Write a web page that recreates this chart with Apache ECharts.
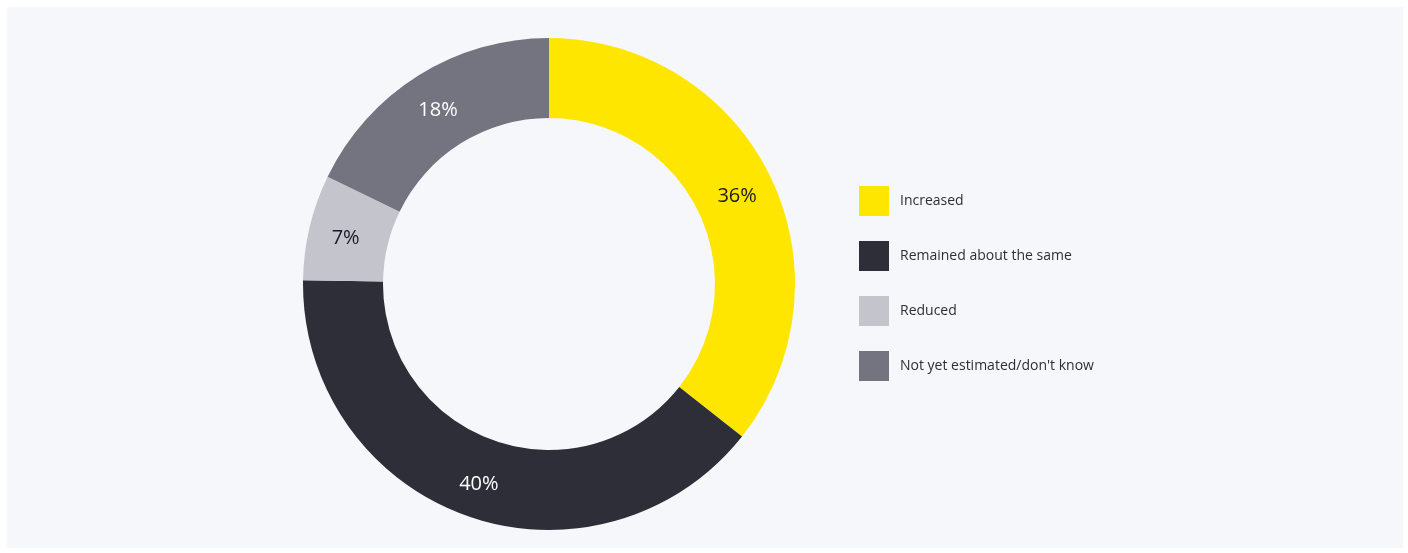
<!DOCTYPE html>
<html>
<head>
<meta charset="utf-8">
<script src="https://cdn.jsdelivr.net/npm/echarts@6/dist/echarts.min.js"></script>
<style>
html,body{margin:0;padding:0;background:#ffffff;}
#chart{width:1408px;height:553px;}
</style>
</head>
<body>
<div id="chart"></div>
<script>
var categories = ['Increased', 'Remained about the same', 'Reduced', "Not yet estimated/don't know"];
var values = [36, 40, 7, 18];
var colors = ['#ffe600', '#2e2e38', '#c4c4cd', '#747480'];
var labelColors = ['#1a1a24', '#ffffff', '#1a1a24', '#ffffff'];

var chart = echarts.init(document.getElementById('chart'), null, {renderer: 'canvas'});
var data = categories.map(function (c, i) {
  return {
    name: c,
    value: values[i],
    itemStyle: {color: colors[i]},
    label: {color: labelColors[i]}
  };
});
chart.setOption({
  animation: false,
  graphic: [{
    type: 'rect',
    z: -10,
    shape: {x: 7, y: 7, width: 1396, height: 541},
    style: {fill: '#f6f7fa'}
  }],
  legend: {
    orient: 'vertical',
    left: 859,
    top: 186,
    padding: 0,
    itemWidth: 30,
    itemHeight: 30,
    itemGap: 25,
    icon: 'rect',
    selectedMode: false,
    data: categories,
    textStyle: {
      fontFamily: 'Open Sans, sans-serif',
      fontSize: 14,
      color: '#2e2e38',
      padding: [2, 0, 0, 6]
    }
  },
  series: [{
    type: 'pie',
    center: [549, 284],
    radius: [166, 246],
    startAngle: 90,
    clockwise: true,
    avoidLabelOverlap: false,
    label: {
      show: true,
      position: 'inside',
      formatter: '{c}%',
      fontFamily: 'Open Sans, sans-serif',
      fontSize: 20,
      offset: [0, 3]
    },
    labelLine: {show: false},
    emphasis: {disabled: true},
    data: data
  }]
});
</script>
</body>
</html>
